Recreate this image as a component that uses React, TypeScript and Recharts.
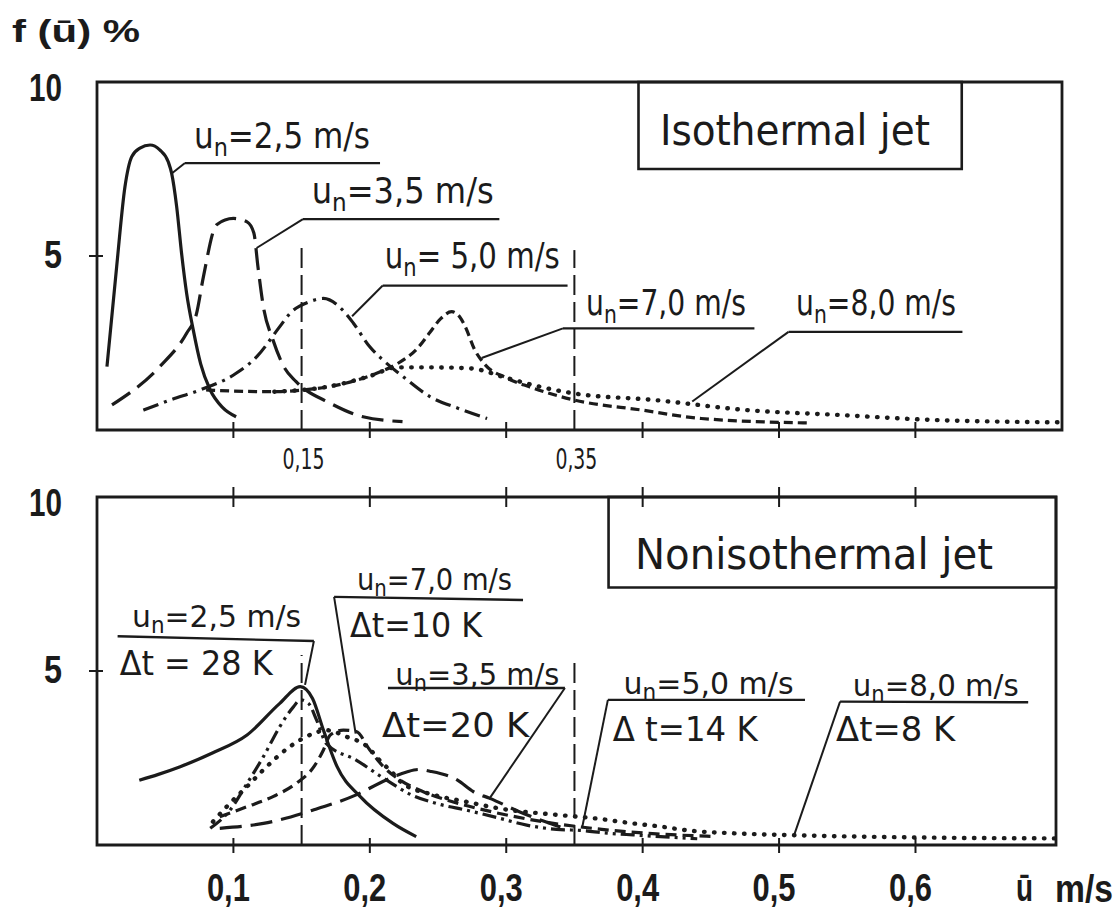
import React from "react";
import {
  LineChart,
  Line,
  XAxis,
  YAxis,
  ReferenceLine,
  ReferenceArea,
  ReferenceDot,
} from "recharts";

// ---------- data (u in m/s, f in %) ----------
// Isothermal jet
const iso25U = [0.0073, 0.0144, 0.0205, 0.0254, 0.0315, 0.0389, 0.046, 0.0523, 0.0547, 0.0584, 0.062, 0.0657, 0.0706, 0.076, 0.083, 0.092, 0.102];
const iso25F = [1.82, 4.69, 6.99, 7.85, 8.1, 8.19, 8.05, 7.7, 7.38, 6.42, 5.08, 3.93, 2.87, 1.9, 1.15, 0.65, 0.38];
const iso35U = [0.011, 0.046, 0.0657, 0.073, 0.078, 0.0877, 0.1, 0.11, 0.115, 0.118, 0.122, 0.129, 0.137, 0.146, 0.171, 0.195, 0.224];
const iso35F = [0.72, 1.82, 2.78, 3.35, 4.4, 5.9, 6.08, 5.98, 5.66, 4.69, 3.54, 2.59, 1.82, 1.39, 0.77, 0.38, 0.24];
const iso50U = [0.034, 0.0535, 0.0755, 0.102, 0.117, 0.134, 0.1415, 0.156, 0.166, 0.18, 0.188, 0.2, 0.21, 0.2245, 0.244, 0.265, 0.286];
const iso50F = [0.57, 0.86, 1.15, 1.63, 2.1, 2.97, 3.35, 3.69, 3.78, 3.45, 3.07, 2.39, 2.0, 1.53, 0.96, 0.62, 0.33];
const iso70U = [0.08, 0.127, 0.151, 0.176, 0.205, 0.22, 0.235, 0.244, 0.252, 0.26, 0.266, 0.27, 0.277, 0.284, 0.3, 0.317, 0.35, 0.4, 0.443, 0.524];
const iso70F = [1.15, 1.1, 1.15, 1.29, 1.63, 1.9, 2.35, 2.8, 3.2, 3.4, 3.25, 2.97, 2.3, 1.9, 1.5, 1.24, 0.86, 0.57, 0.33, 0.2];
const iso80U = [0.13, 0.17, 0.2, 0.22, 0.245, 0.274, 0.3, 0.325, 0.35, 0.409, 0.477, 0.545, 0.612, 0.7075];
const iso80F = [1.1, 1.25, 1.55, 1.8, 1.8, 1.77, 1.5, 1.24, 1.05, 0.86, 0.57, 0.43, 0.29, 0.22];

// Nonisothermal jet
const non25U = [0.031, 0.045, 0.061, 0.085, 0.11, 0.134, 0.149, 0.158, 0.166, 0.176, 0.193, 0.217, 0.234];
const non25F = [1.86, 2.03, 2.25, 2.65, 3.16, 4.07, 4.55, 4.21, 3.3, 2.25, 1.39, 0.62, 0.24];
const non35U = [0.09, 0.122, 0.158, 0.19, 0.212, 0.227, 0.236, 0.244, 0.264, 0.276, 0.288, 0.31, 0.345];
const non35F = [0.48, 0.62, 1.0, 1.44, 1.87, 2.1, 2.17, 2.12, 1.87, 1.53, 1.34, 0.95, 0.45];
const non50U = [0.083, 0.0975, 0.11, 0.122, 0.134, 0.144, 0.149, 0.155, 0.161, 0.168, 0.19, 0.212, 0.23, 0.25, 0.271, 0.295, 0.315, 0.337, 0.354, 0.374, 0.393, 0.413, 0.44];
const non50F = [0.48, 1.0, 1.77, 2.54, 3.4, 3.97, 4.17, 4.07, 3.59, 2.92, 2.44, 1.87, 1.45, 1.18, 1.0, 0.77, 0.57, 0.45, 0.42, 0.34, 0.29, 0.24, 0.18];
const non70U = [0.09, 0.11, 0.129, 0.146, 0.159, 0.166, 0.171, 0.1806, 0.19, 0.2, 0.21, 0.222, 0.235, 0.26, 0.29, 0.33, 0.37, 0.41, 0.45];
const non70F = [0.81, 1.1, 1.39, 1.77, 2.25, 2.73, 3.16, 3.3, 3.26, 2.73, 2.25, 1.87, 1.6, 1.25, 0.95, 0.65, 0.45, 0.32, 0.25];
const non80U = [0.085, 0.0975, 0.11, 0.122, 0.1415, 0.159, 0.168, 0.183, 0.198, 0.207, 0.217, 0.224, 0.247, 0.271, 0.295, 0.339, 0.364, 0.393, 0.413, 0.433, 0.47, 0.511, 0.594, 0.703];
const non80F = [0.67, 1.2, 1.68, 2.16, 2.83, 3.21, 3.3, 3.11, 2.83, 2.44, 2.06, 1.77, 1.44, 1.24, 1.05, 0.86, 0.77, 0.62, 0.53, 0.42, 0.33, 0.28, 0.22, 0.19];

// ticks
const xTicks = [0.1, 0.2, 0.3, 0.4, 0.5, 0.6];
const xTickLabels = ["0,1", "0,2", "0,3", "0,4", "0,5", "0,6"];
const markTicks = [0.15, 0.35];
const markTickLabels = ["0,15", "0,35"];
const yTicks = [5, 10];
const yTickLabels = ["5", "10"];

// labels
const isoSpeeds = ["=2,5 m/s", "=3,5 m/s", "= 5,0 m/s", "=7,0 m/s", "=8,0 m/s"];
const nonSpeeds = ["=2,5 m/s", "=7,0 m/s", "=3,5 m/s", "=5,0 m/s", "=8,0 m/s"];
const nonDeltas = ["Δt = 28 K", "Δt=10 K", "Δt=20 K", "Δ t=14 K", "Δt=8 K"];
const isoTitle = "Isothermal jet";
const nonTitle = "Nonisothermal jet";

// ---------- layout / style ----------
const INK = "#1b1b1b";
const FONT = "'Liberation Sans Narrow', 'DejaVu Sans Condensed', 'Roboto Condensed', 'Liberation Sans', Roboto, sans-serif";
const FONTB = "'Liberation Sans', 'DejaVu Sans', Roboto, sans-serif";
const PLOT_H = 348;
const XMAX_TOP = 0.7075;
const XMAX_BOT = 0.703;

const zip = (u: number[], f: number[]) => u.map((v, i) => ({ u: v, f: f[i] }));

type Series = { data: { u: number; f: number }[]; dash?: string; dotted?: boolean };
const isoSeries: Series[] = [
  { data: zip(iso25U, iso25F) },
  { data: zip(iso35U, iso35F), dash: "22 9" },
  { data: zip(iso50U, iso50F), dash: "16 6 3 6" },
  { data: zip(iso70U, iso70F), dash: "9 5" },
  { data: zip(iso80U, iso80F), dotted: true },
];
const nonSeries: Series[] = [
  { data: zip(non25U, non25F) },
  { data: zip(non35U, non35F), dash: "22 9" },
  { data: zip(non50U, non50F), dash: "14 5 3 5 3 5" },
  { data: zip(non70U, non70F), dash: "11 6" },
  { data: zip(non80U, non80F), dotted: true },
];

// annotation placement (data coordinates)
type Note = { tu: number; tf: number; w: number; ul: [number, number, number, number]; ld: [number, number, number, number] };
const isoNotes: Note[] = [
  { tu: 0.0711, tf: 8.1, w: 176, ul: [0.0645, 7.67, 0.2075, 7.67], ld: [0.0645, 7.67, 0.055, 7.38] },
  { tu: 0.1574, tf: 6.52, w: 182, ul: [0.151, 6.06, 0.295, 6.06], ld: [0.151, 6.06, 0.117, 5.23] },
  { tu: 0.211, tf: 4.65, w: 175, ul: [0.2095, 4.15, 0.345, 4.15], ld: [0.2095, 4.15, 0.187, 3.27] },
  { tu: 0.3585, tf: 3.3, w: 160, ul: [0.3416, 2.92, 0.482, 2.92], ld: [0.3416, 2.92, 0.282, 2.07] },
  { tu: 0.5125, tf: 3.3, w: 160, ul: [0.507, 2.82, 0.6345, 2.82], ld: [0.507, 2.82, 0.4364, 0.82] },
];
type Note2 = Note & { du: number; df: number; dw: number };
const nonNotes: Note2[] = [
  { tu: 0.0257, tf: 6.26, w: 169, ul: [0.0151, 6.0, 0.159, 5.86], ld: [0.159, 5.86, 0.1525, 4.6], du: 0.0166, df: 4.89, dw: 153 },
  { tu: 0.1906, tf: 7.33, w: 155, ul: [0.1738, 7.13, 0.3123, 7.04], ld: [0.1738, 7.13, 0.1896, 3.2], du: 0.1855, df: 5.98, dw: 132 },
  { tu: 0.2187, tf: 4.6, w: 164, ul: [0.2133, 4.51, 0.343, 4.51], ld: [0.343, 4.51, 0.2874, 1.32], du: 0.209, df: 3.1, dw: 147 },
  { tu: 0.386, tf: 4.33, w: 170, ul: [0.3745, 4.17, 0.519, 4.17], ld: [0.3745, 4.17, 0.3556, 0.49], du: 0.378, df: 2.98, dw: 145 },
  { tu: 0.554, tf: 4.29, w: 166, ul: [0.5447, 4.12, 0.6826, 4.1], ld: [0.5447, 4.12, 0.5111, 0.29], du: 0.5418, df: 2.98, dw: 119 },
];

// ---------- small renderers ----------
const SpeedText = ({ x, y, rest, w, size, sub }: { x: number; y: number; rest: string; w: number; size: number; sub: number }) => (
  <text x={x} y={y} fontFamily={FONT} fontSize={size} fill={INK} textLength={w} lengthAdjust="spacingAndGlyphs">
    <tspan>u</tspan>
    <tspan dy={sub} fontSize={size * 0.72}>n</tspan>
    <tspan dy={-sub}>{rest}</tspan>
  </text>
);

const PlainText = ({ x, y, s, w, size, anchor }: { x: number; y: number; s: string; w: number; size: number; anchor?: string }) => (
  <text x={x} y={y} fontFamily={FONT} fontSize={size} fill={INK} textLength={w} lengthAdjust="spacingAndGlyphs" textAnchor={anchor || "start"}>
    {s}
  </text>
);

const YTick = (p: any) => {
  const v = p.payload.value;
  const idx = yTicks.indexOf(v);
  const isTop = v === 10;
  const label = yTickLabels[idx];
  return (
    <g>
      {!isTop && <line x1={p.x - 8} x2={p.x + 6} y1={p.y} y2={p.y} stroke={INK} strokeWidth={2} />}
      <text x={p.x - 35} y={p.y + (isTop ? 19 : 12)} textAnchor="end" fontFamily={FONTB} fontWeight="bold" fontSize={38} fill={INK} textLength={isTop ? 33 : 18} lengthAdjust="spacingAndGlyphs">
        {label}
      </text>
    </g>
  );
};

const TopXTick = (p: any) => {
  const v = p.payload.value;
  const mi = markTicks.findIndex((m) => Math.abs(m - v) < 1e-9);
  if (mi >= 0) {
    return (
      <text x={p.x + 2} y={p.y + 39} textAnchor="middle" fontFamily={FONT} fontSize={29} fill={INK} textLength={42} lengthAdjust="spacingAndGlyphs">
        {markTickLabels[mi]}
      </text>
    );
  }
  return <line x1={p.x} x2={p.x} y1={p.y - 8} y2={p.y + 8} stroke={INK} strokeWidth={2} />;
};

const BotXTick = (p: any) => {
  const v = p.payload.value;
  const i = xTicks.findIndex((m) => Math.abs(m - v) < 1e-9);
  return (
    <g>
      <line x1={p.x} x2={p.x} y1={p.y - 7} y2={p.y + 8} stroke={INK} strokeWidth={2} />
      <line x1={p.x} x2={p.x} y1={p.y - PLOT_H - 10} y2={p.y - PLOT_H + 10} stroke={INK} strokeWidth={2} />
      <text x={p.x - 5} y={p.y + 56} textAnchor="middle" fontFamily={FONTB} fontWeight="bold" fontSize={38} fill={INK} textLength={43} lengthAdjust="spacingAndGlyphs">
        {xTickLabels[i]}
      </text>
    </g>
  );
};

const seg = (a: [number, number, number, number]) => [
  { x: a[0], y: a[1] },
  { x: a[2], y: a[3] },
];

const renderSeries = (list: Series[], prefix: string) =>
  list.map((s, i) => (
    <Line
      key={prefix + i}
      data={s.data}
      dataKey="f"
      type="monotone"
      stroke={INK}
      strokeWidth={s.dotted ? 4.4 : 3.2}
      strokeDasharray={s.dotted ? "0.5 9.5" : s.dash}
      strokeLinecap={s.dotted ? "round" : "butt"}
      dot={false}
      activeDot={false}
      isAnimationActive={false}
    />
  ));

export default function App() {
  return (
    <div style={{ position: "absolute", left: 0, top: 0, width: 1120, height: 915, background: "#fff" }}>
      {/* Top: isothermal jet */}
      <div style={{ position: "absolute", left: 0, top: 0 }}>
        <LineChart width={1120} height={480} margin={{ top: 82, right: 58, bottom: 20, left: 37 }}>
          <XAxis
            type="number"
            dataKey="u"
            domain={[0, XMAX_TOP]}
            ticks={[0.1, 0.15, 0.2, 0.3, 0.35, 0.4, 0.5, 0.6]}
            interval={0}
            axisLine={false}
            tickLine={false}
            tickSize={0}
            tickMargin={0}
            height={30}
            tick={(p: any) => <TopXTick {...p} />}
            allowDataOverflow
          />
          <YAxis
            type="number"
            domain={[0, 10]}
            ticks={yTicks}
            interval={0}
            axisLine={false}
            tickLine={false}
            tickSize={0}
            tickMargin={0}
            width={60}
            tick={(p: any) => <YTick {...p} />}
            allowDataOverflow
          />
          <ReferenceArea x1={0} x2={XMAX_TOP} y1={0} y2={10} fill="none" stroke={INK} strokeWidth={2.8} ifOverflow="visible" />
          <ReferenceArea x1={0.397} x2={0.634} y1={7.5} y2={10} fill="none" stroke={INK} strokeWidth={2.6} ifOverflow="visible" />
          <ReferenceDot
            x={0.5117}
            y={8.18}
            r={0}
            ifOverflow="visible"
            shape={(p: any) => <PlainText x={p.cx} y={p.cy} s={isoTitle} w={270} size={42} anchor="middle" />}
          />
          <ReferenceLine segment={[{ x: 0.15, y: 0 }, { x: 0.15, y: 5.23 }]} stroke={INK} strokeWidth={2} strokeDasharray="20 7" ifOverflow="visible" />
          <ReferenceLine segment={[{ x: 0.35, y: 0 }, { x: 0.35, y: 5.17 }]} stroke={INK} strokeWidth={2} strokeDasharray="20 7" ifOverflow="visible" />
          {isoNotes.map((n, i) => (
            <ReferenceLine key={"iu" + i} segment={seg(n.ul)} stroke={INK} strokeWidth={2.4} ifOverflow="visible" />
          ))}
          {isoNotes.map((n, i) => (
            <ReferenceLine key={"il" + i} segment={seg(n.ld)} stroke={INK} strokeWidth={2} ifOverflow="visible" />
          ))}
          {isoNotes.map((n, i) => (
            <ReferenceDot
              key={"it" + i}
              x={n.tu}
              y={n.tf}
              r={0}
              ifOverflow="visible"
              shape={(p: any) => <SpeedText x={p.cx} y={p.cy} rest={isoSpeeds[i]} w={n.w} size={35} sub={8} />}
            />
          ))}
          {renderSeries(isoSeries, "iso")}
        </LineChart>
      </div>

      {/* Bottom: nonisothermal jet */}
      <div style={{ position: "absolute", left: 0, top: 480 }}>
        <LineChart width={1120} height={435} margin={{ top: 17, right: 64, bottom: 10, left: 37 }}>
          <XAxis
            type="number"
            dataKey="u"
            domain={[0, XMAX_BOT]}
            ticks={xTicks}
            interval={0}
            axisLine={false}
            tickLine={false}
            tickSize={0}
            tickMargin={0}
            height={60}
            tick={(p: any) => <BotXTick {...p} />}
            allowDataOverflow
          />
          <YAxis
            type="number"
            domain={[0, 10]}
            ticks={yTicks}
            interval={0}
            axisLine={false}
            tickLine={false}
            tickSize={0}
            tickMargin={0}
            width={60}
            tick={(p: any) => <YTick {...p} />}
            allowDataOverflow
          />
          <ReferenceArea x1={0} x2={XMAX_BOT} y1={0} y2={10} fill="none" stroke={INK} strokeWidth={2.8} ifOverflow="visible" />
          <ReferenceArea x1={0.375} x2={XMAX_BOT} y1={7.4} y2={10} fill="none" stroke={INK} strokeWidth={2.6} ifOverflow="visible" />
          <ReferenceDot
            x={0.3944}
            y={7.93}
            r={0}
            ifOverflow="visible"
            shape={(p: any) => <PlainText x={p.cx} y={p.cy} s={nonTitle} w={358} size={42} />}
          />
          <ReferenceLine segment={[{ x: 0.15, y: 0 }, { x: 0.15, y: 5.46 }]} stroke={INK} strokeWidth={2} strokeDasharray="20 7" ifOverflow="visible" />
          <ReferenceLine segment={[{ x: 0.35, y: 0 }, { x: 0.35, y: 5.4 }]} stroke={INK} strokeWidth={2} strokeDasharray="20 7" ifOverflow="visible" />
          {nonNotes.map((n, i) => (
            <ReferenceLine key={"nu" + i} segment={seg(n.ul)} stroke={INK} strokeWidth={2.4} ifOverflow="visible" />
          ))}
          {nonNotes.map((n, i) => (
            <ReferenceLine key={"nl" + i} segment={seg(n.ld)} stroke={INK} strokeWidth={2} ifOverflow="visible" />
          ))}
          {nonNotes.map((n, i) => (
            <ReferenceDot
              key={"nt" + i}
              x={n.tu}
              y={n.tf}
              r={0}
              ifOverflow="visible"
              shape={(p: any) => <SpeedText x={p.cx} y={p.cy} rest={nonSpeeds[i]} w={n.w} size={31} sub={6} />}
            />
          ))}
          {nonNotes.map((n, i) => (
            <ReferenceDot
              key={"nd" + i}
              x={n.du}
              y={n.df}
              r={0}
              ifOverflow="visible"
              shape={(p: any) => <PlainText x={p.cx} y={p.cy} s={nonDeltas[i]} w={n.dw} size={33} />}
            />
          ))}
          {renderSeries(nonSeries, "non")}
        </LineChart>
      </div>

      {/* axis titles */}
      <svg width={1120} height={915} style={{ position: "absolute", left: 0, top: 0, pointerEvents: "none" }}>
        <text x={12} y={42} fontFamily={FONTB} fontWeight="bold" fontSize={32} fill={INK} textLength={128} lengthAdjust="spacingAndGlyphs">
          f (ū) %
        </text>
        <text x={1016} y={901} fontFamily={FONTB} fontWeight="bold" fontSize={38} fill={INK} textLength={17} lengthAdjust="spacingAndGlyphs">
          ū
        </text>
        <text x={1055} y={902} fontFamily={FONTB} fontWeight="bold" fontSize={38} fill={INK} textLength={58} lengthAdjust="spacingAndGlyphs">
          m/s
        </text>
      </svg>
    </div>
  );
}
